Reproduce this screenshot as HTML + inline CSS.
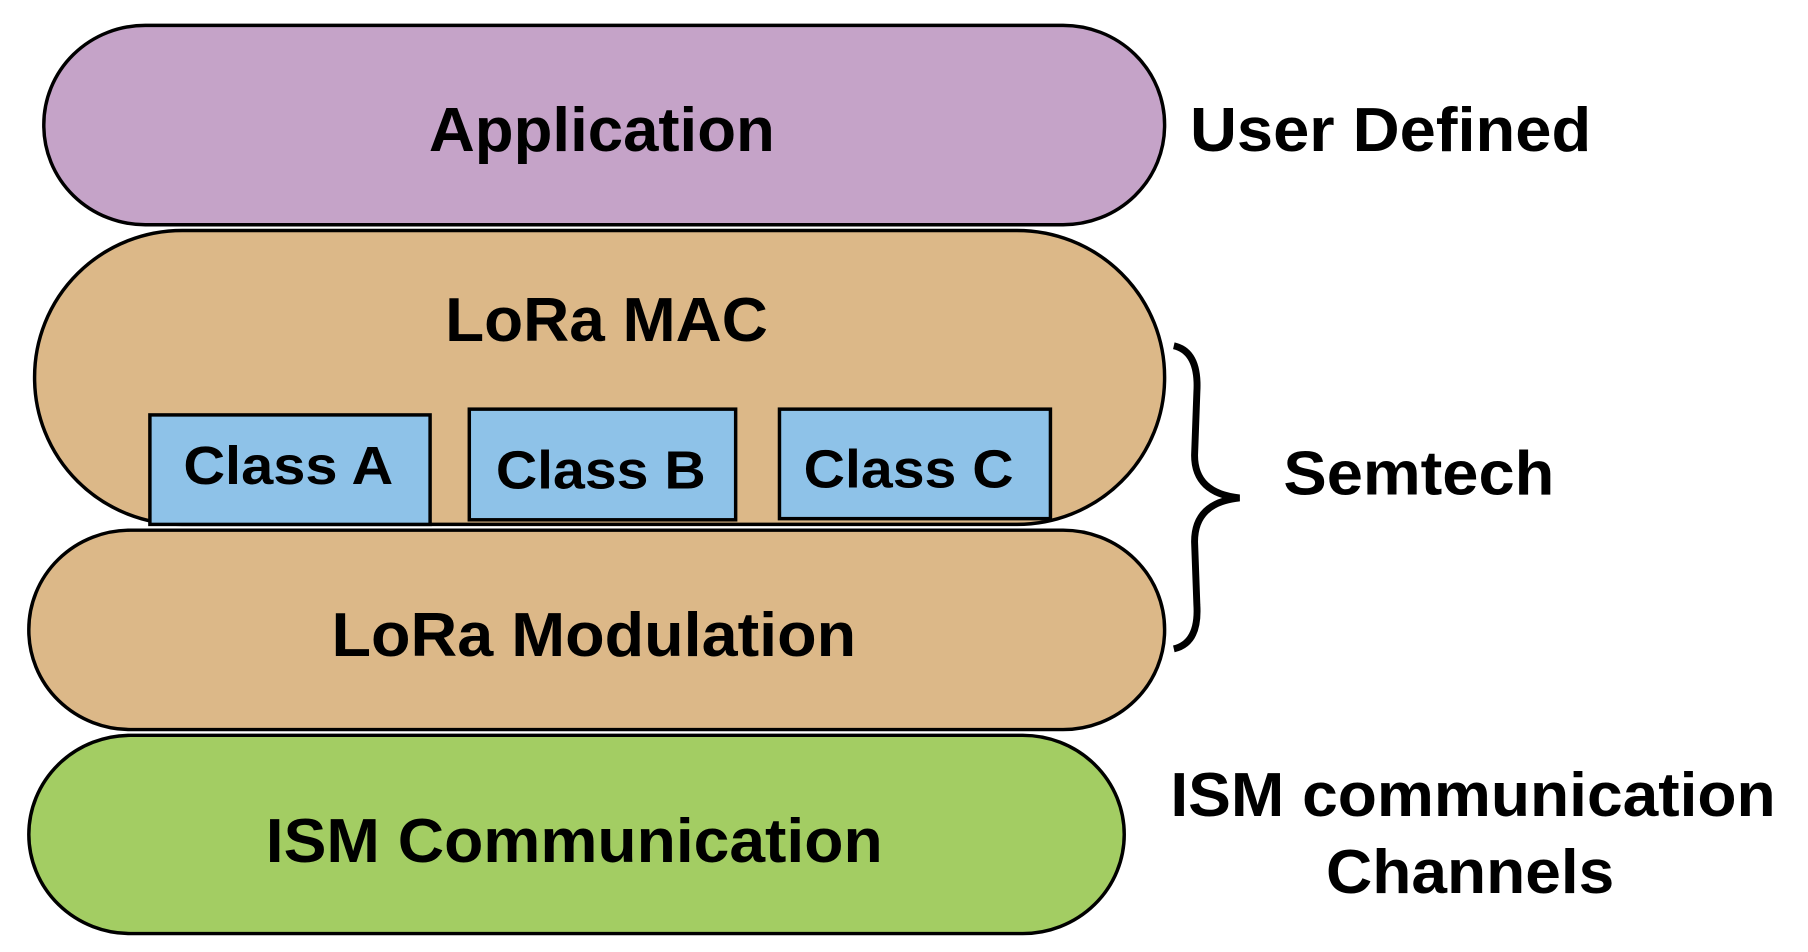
<!DOCTYPE html>
<html><head><meta charset="utf-8"><style>html,body{margin:0;padding:0;background:#fff}svg{display:block}</style></head>
<body>
<svg width="1808" height="952" viewBox="0 0 1568 826" preserveAspectRatio="none" xmlns="http://www.w3.org/2000/svg" font-family="Liberation Sans, Arial, sans-serif" font-weight="bold" fill="#000">
<g stroke="#000" stroke-width="3">
<rect x="38" y="22" width="972" height="173" rx="88" ry="86" fill="#c5a3c8"/>
<rect x="30" y="200" width="980" height="255" rx="128" ry="127" fill="#dcb888"/>
<rect x="130" y="360" width="243" height="95" fill="#8ec2e8"/>
<rect x="407" y="355" width="231" height="96" fill="#8ec2e8"/>
<rect x="676" y="355" width="235" height="95" fill="#8ec2e8"/>
<rect x="25" y="460" width="985" height="173" rx="88" ry="86" fill="#dcb888"/>
<rect x="25" y="638" width="950" height="172" rx="88" ry="86" fill="#a3cd63"/>
<path d="M1018 300 Q1040 305 1038 340 L1036 395 Q1036 428 1075 432 Q1036 436 1036 470 L1038 525 Q1040 558 1018 563" fill="none" stroke-width="6"/>
</g>
<g font-size="54" text-anchor="middle">
<text x="522" y="131" textLength="300" lengthAdjust="spacingAndGlyphs">Application</text>
<text x="526" y="296" textLength="280" lengthAdjust="spacingAndGlyphs">LoRa MAC</text>
<text x="515" y="569" textLength="455" lengthAdjust="spacingAndGlyphs">LoRa Modulation</text>
<text x="498" y="748" textLength="535" lengthAdjust="spacingAndGlyphs">ISM Communication</text>
</g>
<g font-size="47" text-anchor="middle">
<text x="250" y="420" textLength="182" lengthAdjust="spacingAndGlyphs">Class A</text>
<text x="521" y="424" textLength="182" lengthAdjust="spacingAndGlyphs">Class B</text>
<text x="788" y="423" textLength="182" lengthAdjust="spacingAndGlyphs">Class C</text>
</g>
<g font-size="54">
<text x="1032" y="131" textLength="348" lengthAdjust="spacingAndGlyphs">User Defined</text>
<text x="1113" y="429" textLength="235" lengthAdjust="spacingAndGlyphs">Semtech</text>
<text x="1015" y="708" textLength="525" lengthAdjust="spacingAndGlyphs">ISM communication</text>
<text x="1150" y="775" textLength="250" lengthAdjust="spacingAndGlyphs">Channels</text>
</g>
</svg>
</body></html>
